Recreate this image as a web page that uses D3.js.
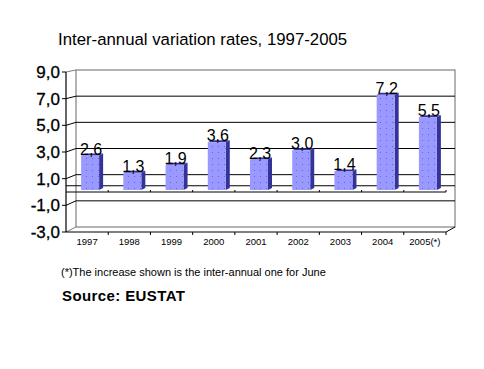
<!DOCTYPE html>
<html><head><meta charset="utf-8">
<script src="https://cdn.jsdelivr.net/npm/d3@7"></script>
<style>body{margin:0;background:#fff}svg{display:block}text{font-family:"Liberation Sans",Arial,sans-serif}</style>
</head><body><svg id="c" width="484" height="369"></svg>
<script>
const categories = ["1997","1998","1999","2000","2001","2002","2003","2004","2005(*)"];
const values = [2.6, 1.3, 1.9, 3.6, 2.3, 3.0, 1.4, 7.2, 5.5];
const valueLabels = ["2,6","1,3","1,9","3,6","2,3","3,0","1,4","7,2","5,5"];
const yTicks = [9, 7, 5, 3, 1, -1, -3];
const yTickLabels = ["9,0","7,0","5,0","3,0","1,0","-1,0","-3,0"];
const title = "Inter-annual variation rates, 1997-2005";
const footnote = "(*)The increase shown is the inter-annual one for June";
const source = "Source: EUSTAT";

const svg = d3.select("#c");
const DX = 10; // depth offset of the wall
const x = d3.scaleBand().domain(categories).range([66, 446]);
const yFront = d3.scaleLinear().domain([-3, 9]).range([232, 72]);
const yBack = d3.scaleLinear().domain([-3, 9]).range([227, 70]);
const yMid = d3.scaleLinear().domain([-3, 9]).range([229.6, 71]);

// title
svg.append("text").attr("x", 58).attr("y", 45).attr("font-size", 16.8).attr("fill", "#000").text(title);

// back wall
const wx0 = 66 + DX, wx1 = 446 + 9;
svg.append("rect").attr("x", wx0).attr("y", yBack(9)).attr("width", wx1 - wx0).attr("height", yBack(-3) - yBack(9))
  .attr("fill", "#fff").attr("stroke", "#808080").attr("stroke-width", 1.2);

// gridlines
yTicks.forEach(t => {
  const inner = t !== 9 && t !== -3;
  if (inner) svg.append("line").attr("x1", wx0).attr("x2", wx1).attr("y1", yBack(t)).attr("y2", yBack(t)).attr("stroke", "#000").attr("stroke-width", 1);
  svg.append("line").attr("x1", 66).attr("y1", yFront(t)).attr("x2", wx0).attr("y2", yBack(t))
    .attr("stroke", inner ? "#000" : "#808080").attr("stroke-width", 1);
  svg.append("line").attr("x1", 62).attr("x2", 66).attr("y1", yFront(t)).attr("y2", yFront(t)).attr("stroke", "#000");
});

// floor at zero
svg.append("line").attr("x1", 66).attr("x2", wx1).attr("y1", yBack(0) - 2).attr("y2", yBack(0) - 2).attr("stroke", "#000");
svg.append("line").attr("x1", 66).attr("x2", 446).attr("y1", yFront(0)).attr("y2", yFront(0)).attr("stroke", "#000");
categories.forEach((c, i) => {
  const bx = x(c) + x.bandwidth();
  svg.append("line").attr("x1", bx).attr("x2", bx).attr("y1", yFront(0)).attr("y2", yFront(0) - 2).attr("stroke", "#000");
});

// front value axis
svg.append("line").attr("x1", 66).attr("x2", 66).attr("y1", yFront(9)).attr("y2", yFront(-3)).attr("stroke", "#000").attr("stroke-width", 1.2);
svg.selectAll("text.yl").data(yTicks).enter().append("text").attr("class", "yl")
  .attr("x", 60).attr("y", d => yFront(d) + 6).attr("text-anchor", "end").attr("font-size", 17)
  .attr("stroke", "#000").attr("stroke-width", 0.3)
  .text((d, i) => yTickLabels[i]);

// category axis at the bottom
svg.append("line").attr("x1", 66).attr("x2", 446).attr("y1", yFront(-3)).attr("y2", yFront(-3)).attr("stroke", "#000").attr("stroke-width", 1.2);
svg.append("line").attr("x1", 446).attr("x2", wx1).attr("y1", yFront(-3)).attr("y2", yBack(-3)).attr("stroke", "#000");
categories.forEach(c => {
  const bx = x(c) + x.bandwidth();
  svg.append("line").attr("x1", bx).attr("x2", bx).attr("y1", yFront(-3)).attr("y2", yFront(-3) + 3).attr("stroke", "#000");
});
svg.selectAll("text.xl").data(categories).enter().append("text").attr("class", "xl")
  .attr("x", d => x(d) + x.bandwidth() / 2).attr("y", 245).attr("text-anchor", "middle").attr("font-size", 9.5)
  .text(d => d);

// dot pattern
const defs = svg.append("defs");
const pat = defs.append("pattern").attr("id", "dots").attr("patternUnits", "userSpaceOnUse")
  .attr("width", 6).attr("height", 6);
pat.append("rect").attr("width", 6).attr("height", 6).attr("fill", "#9999FF");
pat.append("rect").attr("x", 2).attr("y", 2).attr("width", 1).attr("height", 1).attr("fill", "#6666CC");

// bars
const BW = 18, SD = 4, SH = 2;
const bars = svg.selectAll("g.bar").data(values).enter().append("g").attr("class", "bar");
bars.each(function (v, i) {
  const g = d3.select(this);
  const cx = x(categories[i]) + x.bandwidth() / 2 + 3;
  const x0 = cx - BW / 2, x1 = cx + BW / 2;
  const yt = yMid(v), yb = yMid(0);
  g.append("path").attr("d", `M${x1},${yt}L${x1 + SD},${yt - SH}L${x1 + SD},${yb - SH}L${x1},${yb}Z`).attr("fill", "#333399");
  g.append("path").attr("d", `M${x0},${yt}L${x0 + SD},${yt - SH}L${x1 + SD},${yt - SH}L${x1},${yt}Z`).attr("fill", "#333399");
  g.append("rect").attr("x", x0).attr("y", yt).attr("width", BW).attr("height", yb - yt).attr("fill", "url(#dots)");
  g.append("text").attr("x", cx + 1).attr("y", yt - 1).attr("text-anchor", "middle").attr("font-size", 16).text(valueLabels[i]);
});

// footnote and source
svg.append("text").attr("x", 61).attr("y", 276).attr("font-size", 11).text(footnote);
svg.append("text").attr("x", 62).attr("y", 301).attr("font-size", 15).attr("font-weight", "bold").attr("letter-spacing", 0.4).text(source);
</script></body></html>
